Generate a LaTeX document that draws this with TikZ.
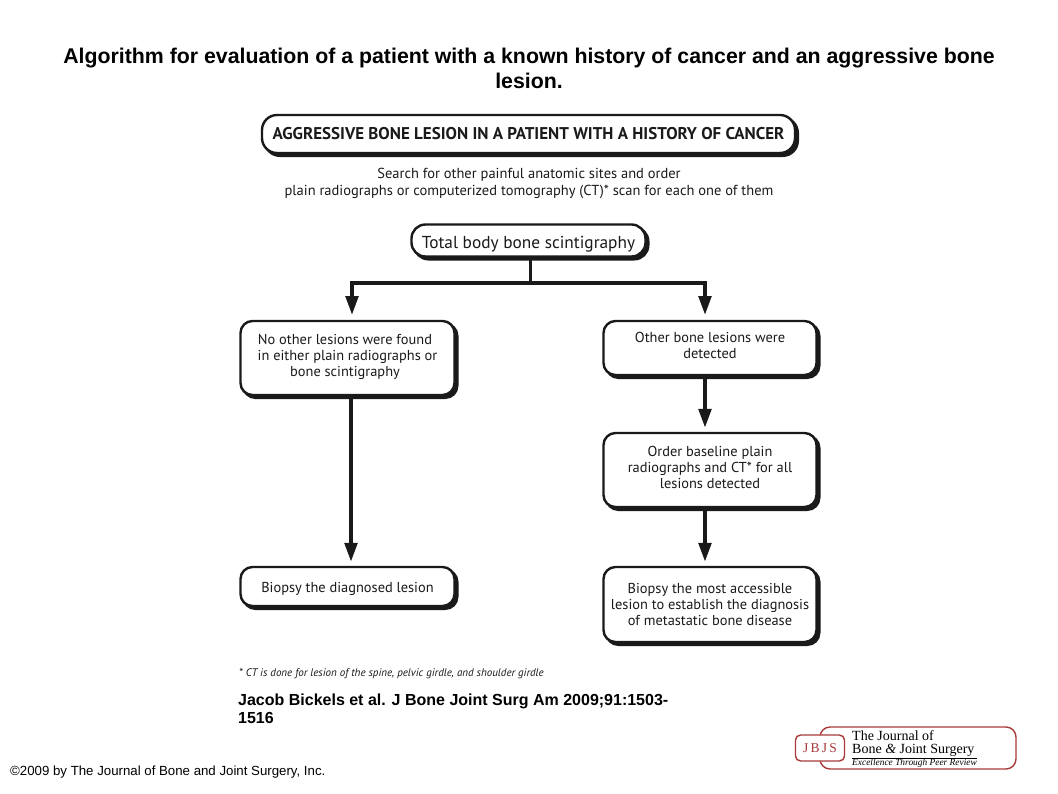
\documentclass[tikz,border=0pt]{standalone}
\usepackage{fontspec}
\setmainfont{Liberation Sans}
\newfontfamily\chartfont{PT Sans}
\newfontfamily\logofont{Liberation Serif}
\usetikzlibrary{arrows.meta,shadows}
\definecolor{ink}{HTML}{1A1A1A}
\definecolor{logored}{HTML}{A83A3A}
\newcommand{\dropstrut}{\rule[-5.5pt]{0pt}{5.5pt}}
\tikzset{
  flowbox/.style={draw=ink,line width=2.4pt,fill=white,rounded corners=12pt,align=center,
    inner sep=0pt,text=ink,font=\chartfont\fontsize{14.4}{16.3}\selectfont,
    copy shadow={shadow xshift=2.8pt,shadow yshift=-2.8pt,fill=ink,draw=ink}},
  link/.style={draw=ink,line width=3.8pt},
  flowarrow/.style={link,-{Triangle[length=19pt,width=12.5pt]},shorten >=4pt},
  chartnote/.style={text=ink,align=center,inner sep=0pt,font=\chartfont\fontsize{14.5}{16.8}\selectfont},
  slidetext/.style={inner sep=0pt,text=black,font=\fontsize{16}{18}\selectfont\bfseries},
}
\begin{document}
\begin{tikzpicture}[x=1pt,y=-1pt]
\useasboundingbox[fill=white] (0,0) rectangle (1058,793);
\node[slidetext,align=center,font=\fontsize{21.3}{25}\selectfont\bfseries] (title) at (529,68.5)
  {Algorithm for evaluation of a patient with a known history of cancer and an aggressive bone\\lesion.};
\node[flowbox,minimum width=533pt,minimum height=38pt,rounded corners=15pt,
      font=\chartfont\bfseries\fontsize{17}{20}\selectfont] (top) at (528.5,134)
  {AGGRESSIVE BONE LESION IN A PATIENT WITH A HISTORY OF CANCER};
\node[chartnote] (search) at (529,183.5)
  {Search for other painful anatomic sites and order\\plain radiographs or computerized tomography (CT)* scan for each one of them};
\node[flowbox,minimum width=234pt,minimum height=32pt,rounded corners=14pt,
      font=\chartfont\fontsize{17.3}{20}\selectfont] (scan) at (528.5,240.5) {\rule{0pt}{19pt}Total body bone scintigraphy};
\node[flowbox,minimum width=214pt,minimum height=74pt] (none) at (347.5,358)
  {No other lesions were found\hspace*{5pt}\\in either plain radiographs or\hspace*{5pt}\\bone scintigraphy\hspace*{5pt}\dropstrut};
\node[flowbox,minimum width=213pt,minimum height=54pt] (other) at (710,348)
  {Other bone lesions were\\detected\dropstrut};
\node[flowbox,minimum width=213pt,minimum height=74pt] (order) at (710,470)
  {Order baseline plain\\radiographs and CT* for all\\lesions detected\dropstrut};
\node[flowbox,minimum width=214pt,minimum height=39pt] (bleft) at (347.5,586.5)
  {\rule{0pt}{15pt}Biopsy the diagnosed lesion};
\node[flowbox,minimum width=213pt,minimum height=75pt] (bright) at (710,604.5)
  {Biopsy the most accessible\\lesion to establish the diagnosis\\of metastatic bone disease};
\coordinate (jl) at (352,283);
\coordinate (jr) at (705,283);
\coordinate (jm) at (530.5,283);
\coordinate (tl) at (352,319);
\coordinate (tr) at (705,319);
\coordinate (ll) at (351,400);
\draw[link] (scan.south -| jm) -- (jm);
\draw[link,line cap=rect] (jl) -- (jr);
\draw[flowarrow] (jl) -- (tl);
\draw[flowarrow] (jr) -- (tr);
\draw[flowarrow] (none.south -| ll) -- (bleft.north -| ll);
\draw[flowarrow] (other.south -| jr) -- (order.north -| jr);
\draw[flowarrow] (order.south -| jr) -- (bright.north -| jr);
\node[anchor=west,inner sep=0pt,text=ink,font=\chartfont\itshape\fontsize{11}{13}\selectfont] (foot) at (239,674)
  {* CT is done for lesion of the spine, pelvic girdle, and shoulder girdle};
\node[slidetext,anchor=north west,align=left] (cite) at (238,693.5)
  {Jacob Bickels et al. J Bone Joint Surg Am 2009;91:1503-\\1516};
\node[anchor=west,inner sep=0pt,text=black,font=\fontsize{13.25}{15}\selectfont] (copy) at (10,772.5)
  {©2009 by The Journal of Bone and Joint Surgery, Inc.};
% logo
\node[draw=logored,line width=1.4pt,rounded corners=10pt,minimum width=196pt,minimum height=42pt,inner sep=0pt] (logoouter) at (918,748) {};
\node[draw=logored,line width=1.4pt,fill=white,rounded corners=5pt,minimum width=49pt,minimum height=26pt,inner sep=0pt,
      text=logored,font=\logofont\fontsize{13.5}{14}\selectfont] (logobox) at (820,748) {J\,B\,J\,S};
\node[anchor=west,inner sep=0pt,text=black,font=\logofont\fontsize{14}{15}\selectfont] (lg1) at (852,735.3) {The Journal of};
\node[anchor=west,inner sep=0pt,text=black,font=\logofont\fontsize{14}{15}\selectfont] (lg2) at (852,750) {Bone {\itshape\&} Joint Surgery};
\node[anchor=west,inner sep=0pt,text=black,font=\logofont\itshape\fontsize{9.4}{10}\selectfont] (lg3) at (852,763) {Excellence Through Peer Review};
\draw[black,line width=0.6pt] (lg3.north west) -- (lg3.north east);
\end{tikzpicture}
\end{document}
